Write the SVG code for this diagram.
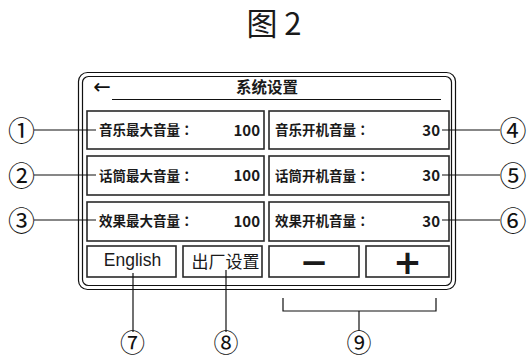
<svg xmlns="http://www.w3.org/2000/svg" width="528" height="358" viewBox="0 0 528 358">
<style>
.cjk{font-family:"Noto Sans CJK SC","Noto Sans",sans-serif;fill:#1a1a1a}
.lbl{font-family:"Noto Sans CJK TC","Noto Sans CJK SC",sans-serif;font-size:13.5px;font-weight:bold;fill:#1a1a1a}
.val{font-family:"Noto Sans CJK SC",sans-serif;font-size:15px;font-weight:bold;text-anchor:end;fill:#1a1a1a}
.box{fill:none;stroke:#2a2a2a;stroke-width:1.6}
.frame{fill:none;stroke:#111;stroke-width:1.2}
.ln{stroke:#111;stroke-width:1.2;fill:none}
.num{font-family:"Noto Sans CJK SC",sans-serif;font-size:27px;text-anchor:middle;dominant-baseline:central;fill:#111}
.numb{font-family:"Noto Sans CJK SC",sans-serif;font-size:25px;text-anchor:middle;dominant-baseline:central;fill:#111}
</style>
<rect width="528" height="358" fill="#fff"/>
<text class="cjk" x="274" y="35" font-size="31" text-anchor="middle">图 2</text>
<g id="frame">
<rect class="frame" x="78.5" y="72.5" width="377" height="217" rx="9"/>
<rect class="frame" x="82.5" y="76.5" width="369" height="209" rx="6"/>
<text x="102" y="94" font-family="DejaVu Sans,sans-serif" font-size="21" text-anchor="middle" fill="#111">←</text>
<text class="cjk" x="267" y="93" font-size="15.5" font-weight="bold" text-anchor="middle">系统设置</text>
<line class="ln" x1="112" y1="99.5" x2="441" y2="99.5" stroke-width="1.5"/>
</g>
<g id="n1"><rect class="box" x="87" y="111" width="177" height="38"/><text class="lbl" x="99" y="135">音乐最大音量：</text><text class="val" x="260" y="135.5">100</text></g>
<g id="n2"><rect class="box" x="87" y="156" width="177" height="39"/><text class="lbl" x="99" y="180.5">话筒最大音量：</text><text class="val" x="260" y="181">100</text></g>
<g id="n3"><rect class="box" x="87" y="202" width="177" height="39"/><text class="lbl" x="99" y="226">效果最大音量：</text><text class="val" x="260" y="226.5">100</text></g>
<g id="n4"><rect class="box" x="269" y="111" width="180" height="38"/><text class="lbl" x="275" y="135">音乐开机音量：</text><text class="val" x="440" y="135.5">30</text></g>
<g id="n5"><rect class="box" x="269" y="156" width="180" height="39"/><text class="lbl" x="275" y="180.5">话筒开机音量：</text><text class="val" x="440" y="181">30</text></g>
<g id="n6"><rect class="box" x="269" y="202" width="180" height="39"/><text class="lbl" x="275" y="226">效果开机音量：</text><text class="val" x="440" y="226.5">30</text></g>
<g id="n7"><rect class="box" x="87" y="246" width="89" height="31"/><text x="132.5" y="266" font-family="Liberation Sans,Arial,sans-serif" font-size="17.5" text-anchor="middle" fill="#1a1a1a">English</text></g>
<g id="n8"><rect class="box" x="183" y="246" width="79" height="31"/><text class="cjk" x="225.5" y="267.5" font-size="17" text-anchor="middle">出厂设置</text></g>
<g id="n9"><rect class="box" x="269" y="246" width="90" height="31"/><text x="314" y="274" font-family="DejaVu Sans,sans-serif" font-size="34" font-weight="bold" text-anchor="middle" fill="#1a1a1a">−</text></g>
<g id="n10"><rect class="box" x="366" y="246" width="83" height="31"/><text x="407.5" y="274" font-family="DejaVu Sans,sans-serif" font-size="34" font-weight="bold" text-anchor="middle" fill="#1a1a1a">+</text></g>
<g id="connectors">
<line class="ln" x1="34" y1="130" x2="96" y2="130"/>
<line class="ln" x1="34" y1="175" x2="96" y2="175"/>
<line class="ln" x1="34" y1="220" x2="96" y2="220"/>
<line class="ln" x1="442" y1="130" x2="500" y2="130"/>
<line class="ln" x1="442" y1="175" x2="500" y2="175"/>
<line class="ln" x1="442" y1="220" x2="500" y2="220"/>
<line class="ln" x1="133" y1="273" x2="133" y2="332"/>
<line class="ln" x1="226" y1="270" x2="226" y2="332"/>
<polyline class="ln" points="283,298 283,311 436,311 436,298"/>
<line class="ln" x1="359" y1="311" x2="359" y2="331"/>
</g>
<g id="callouts">
<text class="num" x="21.5" y="129">①</text>
<text class="num" x="21.5" y="174">②</text>
<text class="num" x="21.5" y="219">③</text>
<text class="num" x="513" y="129">④</text>
<text class="num" x="513" y="174">⑤</text>
<text class="num" x="513" y="219">⑥</text>
<text class="numb" x="132.5" y="341">⑦</text>
<text class="numb" x="226" y="341">⑧</text>
<text class="numb" x="359" y="341">⑨</text>
</g>
</svg>
